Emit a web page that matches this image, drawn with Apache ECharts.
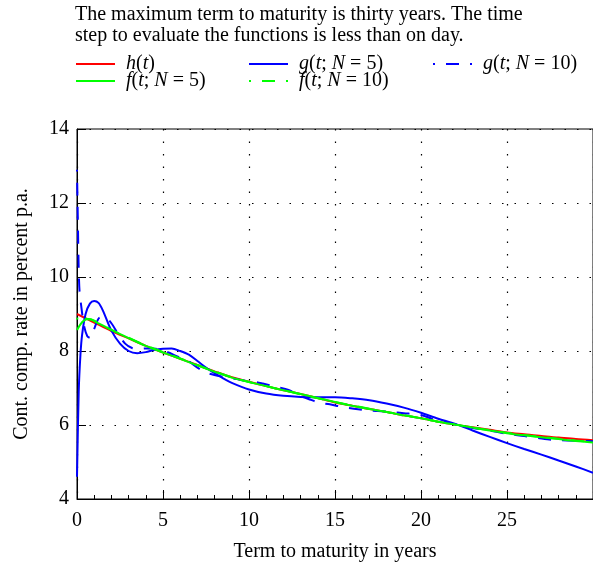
<!DOCTYPE html>
<html>
<head>
<meta charset="utf-8">
<script src="https://cdn.jsdelivr.net/npm/echarts@6/dist/echarts.min.js"></script>
<style>
html,body{margin:0;padding:0;background:#fff;}
#c{width:593px;height:567px;}
</style>
</head>
<body>
<div id="c"></div>
<script>
// ---- data ----
const titleText = 'The maximum term to maturity is thirty years. The time\nstep to evaluate the functions is less than on day.';
const xTicks = [0, 5, 10, 15, 20, 25];
const yTicks = [4, 6, 8, 10, 12, 14];

const hT = [0,1,2,3,4,5,6,7,8,9,10,11,12,13,14,15,16,17,18,19,20,21,22,23,24,25,26,27,28,29,30];
const hV = [9.00,8.77,8.54,8.34,8.14,7.96,7.79,7.62,7.45,7.29,7.17,7.05,6.94,6.84,6.73,6.61,6.52,6.43,6.35,6.26,6.18,6.09,6.01,5.94,5.87,5.80,5.75,5.70,5.66,5.62,5.59];

const g5T = [0,0.1,0.2,0.3,0.5,0.75,1.0,1.25,1.5,2.0,2.5,3.0,3.5,4.0,4.5,5.0,5.5,6.0,6.5,7,7.5,8,8.5,9,10,11,12,13,14,15,16,17,18,19,20,21,22,23,24,25,26,27,28,29,30];
const g5V = [4.6,6.9,7.9,8.45,9.0,9.28,9.35,9.3,9.1,8.55,8.2,8.0,7.94,7.97,8.03,8.06,8.07,8.0,7.9,7.73,7.55,7.4,7.26,7.14,6.96,6.85,6.79,6.76,6.75,6.75,6.72,6.67,6.58,6.47,6.33,6.17,6.03,5.85,5.68,5.51,5.35,5.2,5.04,4.88,4.71];

const g10T = [0,0.05,0.1,0.15,0.25,0.4,0.6,0.8,1.0,1.3,1.6,2.0,2.4,2.8,3.2,3.6,4.1,4.6,5.2,5.9,6.4,7.0,7.6,8.5,9.2,9.7,10.3,10.8,11.6,12.3,12.9,13.6,14.1,14.7,15.3,16.1,16.8,17.5,18.3,19,20,20.6,21.6,22.3,23,24,25,26,26.9,27.6,28.5,30];
const g10V = [12.9,11.5,10.2,9.6,9.2,8.7,8.4,8.35,8.6,8.9,8.92,8.75,8.45,8.2,8.08,8.06,8.07,8.06,7.98,7.84,7.75,7.55,7.4,7.3,7.25,7.2,7.17,7.12,7.03,6.95,6.8,6.68,6.6,6.56,6.5,6.44,6.4,6.38,6.35,6.32,6.27,6.18,6.06,5.98,5.92,5.85,5.76,5.7,5.64,5.6,5.58,5.56];

const f5T = [0,0.2,0.4,0.6,0.8,1,2,3,4,5,6,7,8,9,10,11,12,13,14,15,16,17,18,19,20,21,22,23,24,25,26,27,28,29,30];
const f5V = [8.57,8.72,8.82,8.86,8.85,8.81,8.57,8.35,8.14,7.96,7.79,7.61,7.44,7.28,7.16,7.05,6.94,6.84,6.73,6.62,6.52,6.43,6.35,6.26,6.18,6.09,6.01,5.93,5.85,5.78,5.72,5.67,5.62,5.57,5.53];

const f10T = [0,0.15,0.3,0.5,0.8,1,1.5,2,3,4,5,6,7,8,9,10,11,12,13,14,15,16,17,18,19,20,21,22,23,24,25,26,27,28,29,30];
const f10V = [8.9,8.75,8.8,8.87,8.86,8.82,8.7,8.57,8.36,8.15,7.97,7.8,7.62,7.45,7.29,7.16,7.05,6.94,6.83,6.72,6.62,6.53,6.44,6.35,6.27,6.18,6.09,6.01,5.93,5.86,5.79,5.73,5.68,5.63,5.58,5.54];

const legendLabels = {
  h: '{i|h}({i|t})',
  g5: '{i|g}({i|t}; {i|N} = 5)',
  g10: '{i|g}({i|t}; {i|N} = 10)',
  f5: '{i|f}({i|t}; {i|N} = 5)',
  f10: '{i|f}({i|t}; {i|N} = 10)'
};

// ---- chart ----
const FONT = '"Liberation Serif", "Times New Roman", serif';
const zip = (t, v) => t.map((x, i) => [x, v[i]]);

function mkLegend(name, left, top) {
  return {
    data: [name],
    left: left, top: top,
    itemWidth: 39, itemHeight: 2,
    padding: 0,
    itemStyle: { color: 'rgba(0,0,0,0)', borderWidth: 0, opacity: 0 },
    formatter: n => legendLabels[n],
    textStyle: {
      fontFamily: FONT, fontSize: 20, color: '#000', lineHeight: 20,
      padding: [0, 0, 0, 6],
      rich: { i: { fontFamily: FONT, fontSize: 20, fontStyle: 'italic', color: '#000' } }
    }
  };
}

function mkSeries(name, data, color, dashed) {
  return {
    name: name, type: 'line', data: data,
    showSymbol: false, symbol: 'none', smooth: 0.3,
    animation: false,
    lineStyle: { color: color, width: 2, type: dashed ? [13, 11] : 'solid', dashOffset: dashed ? 11 : 0 },
    itemStyle: { color: color }
  };
}

const chart = echarts.init(document.getElementById('c'), null, { renderer: 'canvas' });
chart.setOption({
  animation: false,
  backgroundColor: '#fff',
  title: {
    text: titleText, left: 75, top: 4, padding: 0,
    textStyle: { fontFamily: FONT, fontSize: 20, fontWeight: 'normal', color: '#000', lineHeight: 21 }
  },
  legend: [
    mkLegend('h', 75, 54),
    mkLegend('f5', 75, 71),
    mkLegend('g5', 248, 54),
    mkLegend('f10', 248, 71),
    mkLegend('g10', 432, 54)
  ],
  grid: { left: 77, right: -4, top: 129, bottom: 68, show: true, borderColor: '#000', borderWidth: 1 },
  xAxis: {
    type: 'value', min: 0, max: 30, interval: 5,
    name: 'Term to maturity in years', nameLocation: 'middle', nameGap: 43,
    nameTextStyle: { fontFamily: FONT, fontSize: 20, color: '#000' },
    axisLine: { show: true, onZero: false, lineStyle: { color: '#000', width: 1 } },
    axisTick: { show: true, inside: true, length: 9, lineStyle: { color: '#000' } },
    minorTick: { show: true, splitNumber: 5, length: 4, lineStyle: { color: '#000' } },
    axisLabel: { fontFamily: FONT, fontSize: 20, color: '#000', margin: 12, showMaxLabel: false,
      formatter: v => xTicks.includes(v) ? String(v) : '' },
    splitLine: { show: true, lineStyle: { color: '#000', width: 1.2, type: [1.5, 11] } }
  },
  yAxis: {
    type: 'value', min: 4, max: 14, interval: 2,
    name: 'Cont. comp. rate in percent p.a.', nameLocation: 'middle', nameGap: 45,
    nameTextStyle: { fontFamily: FONT, fontSize: 20, color: '#000' },
    axisLine: { show: true, onZero: false, lineStyle: { color: '#000', width: 1 } },
    axisTick: { show: true, inside: true, length: 9, lineStyle: { color: '#000' } },
    axisLabel: { fontFamily: FONT, fontSize: 20, color: '#000', margin: 8,
      formatter: v => yTicks.includes(v) ? String(v) : '' },
    splitLine: { show: true, lineStyle: { color: '#000', width: 1.2, type: [1.5, 11] } }
  },
  series: [
    mkSeries('h', zip(hT, hV), '#ff0000', false),
    mkSeries('g5', zip(g5T, g5V), '#0000ff', false),
    mkSeries('g10', zip(g10T, g10V), '#0000ff', true),
    mkSeries('f5', zip(f5T, f5V), '#00ff00', false),
    mkSeries('f10', zip(f10T, f10V), '#00ff00', true)
  ]
});
</script>
</body>
</html>
